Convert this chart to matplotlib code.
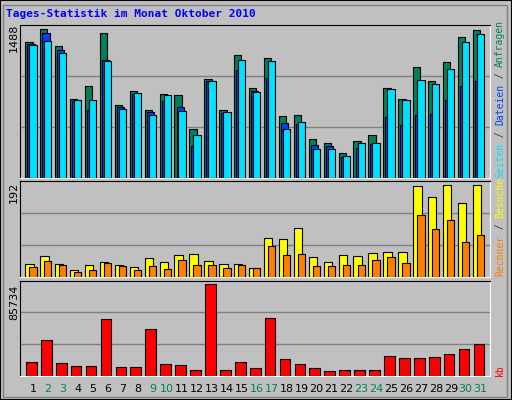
import matplotlib
matplotlib.use("Agg")
import matplotlib.pyplot as plt
from matplotlib.patches import Rectangle

days = list(range(1, 32))
weekend = [2, 3, 9, 10, 16, 17, 23, 24, 30, 31]
anfragen = [1356,1488,1316,788,920,1447,727,869,676,839,829,484,991,676,1228,900,1194,616,626,392,352,250,372,433,900,788,1103,971,1153,1407,1478]
dateien = [1339,1447,1275,768,676,1174,707,839,656,768,707,321,971,646,1072,869,1001,545,534,331,321,210,301,342,605,524,626,636,778,920,971]
seiten = [1326,1366,1245,778,778,1163,687,849,626,829,666,433,971,656,1174,859,1163,484,555,291,291,220,352,352,889,778,981,940,1082,1356,1437]
besuche = [27,42,27,13,25,31,25,19,38,31,44,48,33,27,27,17,81,79,102,40,31,46,42,50,52,52,190,167,192,154,192]
rechner = [19,33,25,10,13,29,23,13,21,15,35,25,25,17,25,17,63,44,48,21,21,25,25,35,40,29,129,100,119,73,86]
kb = [12516,33480,11577,8761,8761,52880,7822,7822,43493,10638,9700,5006,85734,5006,12516,6884,53819,15332,10638,6884,4068,5006,5006,5006,18148,16271,16271,17210,20026,24719,29413]

W, H = 512, 400
fig = plt.figure(figsize=(W/100, H/100), dpi=100)
fig.patch.set_facecolor("#C0C0C0")
# outer frame
fig.patches.append(Rectangle((0, 0), 1, 1, transform=fig.transFigure, fill=False, edgecolor="black", lw=1.5))
fig.patches.append(Rectangle((3/W, 3/H), (W-8)/W, (H-8)/H, transform=fig.transFigure, fill=False, edgecolor="#808080", lw=1))

def mkax(top, bot):
    ax = fig.add_axes([20/W, (H-bot)/H, 470/W, (bot-top)/H])
    ax.set_facecolor("#C0C0C0")
    ax.set_xlim(0.129, 31.63)
    ax.set_xticks([]); ax.set_yticks([])
    for s in ["left", "top"]:
        ax.spines[s].set_color("black")
    for s in ["right", "bottom"]:
        ax.spines[s].set_color("white")
    return ax

def bars(ax, vals, off, w, color):
    ax.bar([d + off for d in days], vals, width=w, align="edge", color=color, edgecolor="black", linewidth=0.8, zorder=3)

ax1 = mkax(25, 178)
ymax1 = 1525
ax1.set_ylim(0, ymax1)
for f in (1/3, 2/3):
    ax1.axhline(ymax1*f, color="#808080", lw=1, zorder=1)
bars(ax1, anfragen, -0.52, 0.49, "#00805C")
bars(ax1, dateien, -0.38, 0.49, "#0040FF")
bars(ax1, seiten, -0.25, 0.49, "#00E0FF")

ax2 = mkax(181, 276.5)
ymax2 = 199.7
ax2.set_ylim(0, ymax2)
for f in (1/3, 2/3):
    ax2.axhline(ymax2*f, color="#808080", lw=1, zorder=1)
bars(ax2, besuche, -0.52, 0.56, "#FFFF00")
bars(ax2, rechner, -0.25, 0.49, "#FF8000")

ax3 = mkax(280.5, 375.7)
ymax3 = 89175
ax3.set_ylim(0, ymax3)
for f in (1/3, 2/3):
    ax3.axhline(ymax3*f, color="#808080", lw=1, zorder=1)
bars(ax3, kb, -0.47, 0.72, "#FF0000")

# day labels
for d in days:
    x = (33 + 14.92*(d-1)) / W
    fig.text(x, (H-389)/H, str(d), ha="center", va="center", fontsize=8,
             color="#008060" if d in weekend else "black")

# max labels
fig.text(14/W, (H-38)/H, "1488", rotation=90, ha="center", va="center", fontsize=8)
fig.text(14/W, (H-192)/H, "192", rotation=90, ha="center", va="center", fontsize=8)
fig.text(14/W, (H-302)/H, "85734", rotation=90, ha="center", va="center", fontsize=8)

fig.text(6/W, (H-14)/H, "Tages-Statistik im Monat Oktober 2010", ha="left", va="center",
         fontsize=8, fontweight="bold", color="#0000FF", family="DejaVu Sans Mono")

def vlabel(parts, ybottom, x=500, ch=5.85):
    y = ybottom
    for txt, col in parts:
        fig.text(x/W, (H-y)/H, txt, rotation=90, ha="center", va="bottom", fontsize=7,
                 color=col, family="DejaVu Sans Mono")
        y -= ch*len(txt)

vlabel([("Seiten", "#00E0FF"), (" / ", "#404040"), ("Dateien", "#0040FF"), (" / ", "#404040"), ("Anfragen", "#00805C")], 178)
vlabel([("Rechner", "#FF8000"), (" / ", "#404040"), ("Besuche", "#FFFF00")], 276)
vlabel([("kb", "#FF0000")], 376)

fig.savefig("out.png", dpi=100, facecolor=fig.get_facecolor())
